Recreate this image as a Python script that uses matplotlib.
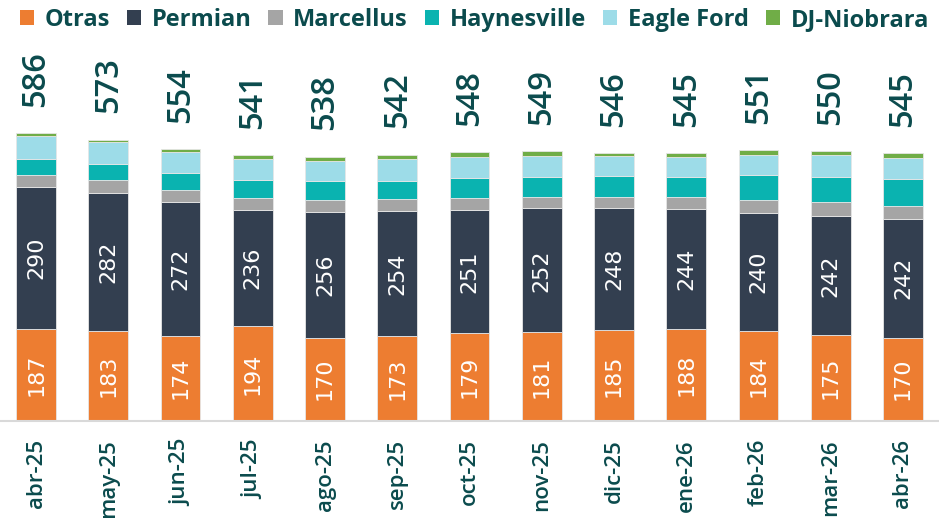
import matplotlib
matplotlib.use("Agg")
import matplotlib.pyplot as plt
from matplotlib.patches import Patch
import numpy as np

months = ['abr-25', 'may-25', 'jun-25', 'jul-25', 'ago-25', 'sep-25', 'oct-25',
          'nov-25', 'dic-25', 'ene-26', 'feb-26', 'mar-26', 'abr-26']
otras = [187, 183, 174, 194, 170, 173, 179, 181, 185, 188, 184, 175, 170]
permian = [290, 282, 272, 236, 256, 254, 251, 252, 248, 244, 240, 242, 242]
marcellus = [25, 25, 24, 24, 24, 25, 24, 24, 24, 24, 26, 28, 26]
haynesville = [31, 33, 36, 37, 38, 37, 40, 40, 42, 41, 51, 52, 55]
eagle_ford = [48, 45, 41, 43, 41, 44, 44, 42, 40, 41, 41, 44, 43]
dj_niobrara = [5, 5, 7, 7, 9, 9, 10, 10, 7, 7, 9, 9, 9]
totals = [586, 573, 554, 541, 538, 542, 548, 549, 546, 545, 551, 550, 545]

series_names = ['Otras', 'Permian', 'Marcellus', 'Haynesville', 'Eagle Ford', 'DJ-Niobrara']
series = [otras, permian, marcellus, haynesville, eagle_ford, dj_niobrara]
colors = ['#ED7D31', '#333F50', '#A5A5A5', '#0AB3B0', '#9DDCE8', '#70AD47']
text_color = '#0B4B4D'

fig = plt.figure(figsize=(9.39, 5.18), dpi=100)
ax = fig.add_axes([0.0, 0.1873, 1.0, 0.7355])

x = np.arange(len(months))
bottom = np.zeros(len(months))
for name, vals, col in zip(series_names, series, colors):
    vals = np.array(vals, dtype=float)
    ax.bar(x, vals, bottom=bottom, width=0.55, color=col, edgecolor='#e6e6e6',
           linewidth=0.6, label=name)
    if name in ('Otras', 'Permian'):
        for xi, b, v in zip(x, bottom, vals):
            ax.text(xi, b + v / 2, f"{int(v)}", rotation=90, ha='center', va='center',
                    color='white', fontsize=16, family=['DejaVu Sans'])
    bottom += vals

for xi, tot, top in zip(x, totals, bottom):
    ax.annotate(f"{tot}", xy=(xi, top), xytext=(0, 19), textcoords='offset points',
                rotation=90, ha='center', va='bottom', color=text_color,
                fontsize=23.5, fontweight='semibold', family=['Open Sans', 'DejaVu Sans'])

ax.set_xlim(-0.5, len(months) - 0.5)
ax.set_ylim(0, 776)
ax.set_xticks(x)
ax.set_xticklabels(months, rotation=90, ha='center', va='top', color=text_color,
                   fontsize=16, fontweight='semibold', family=['Open Sans', 'DejaVu Sans'])
ax.tick_params(axis='x', length=0, pad=13)
ax.set_yticks([])
for s in ['top', 'right', 'left']:
    ax.spines[s].set_visible(False)
ax.spines['bottom'].set_color('#d9d9d9')
ax.spines['bottom'].set_linewidth(1.5)

handles = [Patch(facecolor=c, edgecolor='none') for c in colors]
leg = fig.legend(handles, series_names, loc='center', bbox_to_anchor=(0.505, 0.961),
                 ncol=6, frameon=False, handlelength=0.6, handleheight=0.6,
                 handletextpad=0.45, columnspacing=0.72, borderaxespad=0, borderpad=0,
                 prop={'family': ['Open Sans', 'DejaVu Sans'], 'weight': 'bold', 'size': 17})
for t in leg.get_texts():
    t.set_color(text_color)

fig.savefig('out.png', dpi=100)
